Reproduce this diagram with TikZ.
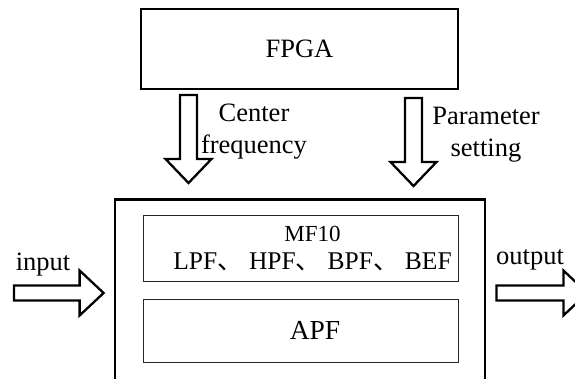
\documentclass[tikz,border=0pt]{standalone}
\usepackage{fontspec}
\setmainfont{Liberation Serif}
\newfontfamily\cjk{Noto Sans CJK SC}
\usetikzlibrary{positioning,calc}

\tikzset{
  box/.style={draw, line width=2.2pt, inner sep=0pt},
  subbox/.style={draw=black!85, line width=0.8pt, inner sep=0pt, minimum width=315pt},
  fatline/.style={draw, line width=2.3pt, line join=miter, fill=white},
}
\newcommand\dun{{\cjk 、}}
% fat block arrow from #1 to #2 (named coordinates), #3 half shaft, #4 half head
\newcommand\fatarrow[4]{%
  \path (#1) coordinate (fa) (#2) coordinate (fb) ($(fb)!24pt!(fa)$) coordinate (fh);
  \draw[fatline] ($(fa)!#3!90:(fb)$) -- ($(fh)!#3!90:(fb)$) -- ($(fh)!#4!90:(fb)$) -- (fb)
    -- ($(fh)!#4!-90:(fb)$) -- ($(fh)!#3!-90:(fb)$) -- ($(fa)!#3!-90:(fb)$) -- cycle;}

\begin{document}
\begin{tikzpicture}[x=1pt, y=1pt, every node/.style={font=\fontsize{26.5}{32}\selectfont}]
  \useasboundingbox (0,0) rectangle (575,378);
  \clip (0,0) rectangle (575,378);
  % blocks
  \node[box, minimum width=317pt, minimum height=80pt] (fpga) at (299.5,329) {FPGA};
  \node[box, line width=2.8pt, minimum width=370pt, minimum height=230pt, anchor=north] (filt) at (300,180) {};
  \node[subbox, minimum height=66pt,
    label={[align=center, xshift=12pt, yshift=-1pt, font=\fontsize{25.5}{28}\selectfont]center:%
      {\fontsize{23}{28}\selectfont MF10\\LPF\dun{} HPF\dun{} BPF\dun{} BEF}}] (mf10) at (300.5,130) {};
  \node[subbox, minimum height=63pt,
    label={[xshift=14pt, font=\fontsize{27.5}{32}\selectfont]center:APF}] (apf) at (301,47.5) {};
  % arrows from FPGA
  \coordinate (cfbeg) at ($(fpga.south)+(-111,-5)$);
  \coordinate (cfend) at ($(cfbeg |- filt.north)+(0,15)$);
  \coordinate (psbeg) at ($(fpga.south)+(114,-8)$);
  \coordinate (psend) at ($(psbeg |- filt.north)+(0,12)$);
  \fatarrow{cfbeg}{cfend}{8.5pt}{23pt}
  \fatarrow{psbeg}{psend}{8.5pt}{23pt}
  \node[align=center] (cflabel) at (254,246) {Center\\frequency};
  \node[align=center] (pslabel) at (486,243) {Parameter\\setting};
  % input / output
  \coordinate (inbeg) at (14,85);
  \coordinate (inend) at ($(filt.west |- inbeg)+(-10,0)$);
  \coordinate (outbeg) at ($(filt.east |- inbeg)+(10,0)$);
  \coordinate (outend) at ($(outbeg)+(91,0)$);
  \fatarrow{inbeg}{inend}{7.5pt}{22.5pt}
  \fatarrow{outbeg}{outend}{7.5pt}{22.5pt}
  \node (inlabel) at (43,113) {input};
  \node (outlabel) at (530,118) {output};
\end{tikzpicture}
\end{document}
